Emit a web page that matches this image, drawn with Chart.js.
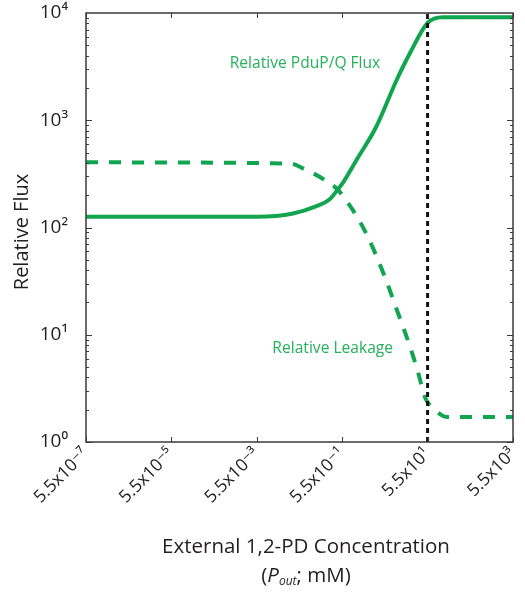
<!DOCTYPE html>
<html><head><meta charset="utf-8">
<script src="https://cdn.jsdelivr.net/npm/chart.js@4"></script>
<style>html,body{margin:0;padding:0;background:#fff}#wrap{width:525px;height:592px;position:relative}</style>
</head><body><div id="wrap"><canvas id="c" width="525" height="592"></canvas></div>
<script>
// ---- data ----
const fluxX = [5.5e-7, 5.5e-3, 0.0389, 0.138, 0.276, 0.437, 0.58, 1.23, 3.47, 10.5, 21.9, 55, 126, 5500];
const fluxY = [126, 126, 135, 158, 182, 227, 264, 436, 874, 2400, 4330, 8100, 9140, 9140];
const leakX = [5.5e-7, 0.0331, 0.066, 0.219, 0.437, 0.978, 2.09, 5.5, 10.5, 21.4, 33.2, 47.9, 74.1, 155, 5500];
const leakY = [405, 395, 356, 276, 224, 145, 85, 34.6, 17, 7.7, 4.4, 2.6, 2.07, 1.71, 1.71];
const thresholdX = [55, 55];
const thresholdY = [1, 10000];
const xTickValues = [5.5e-7, 5.5e-5, 5.5e-3, 5.5e-1, 5.5e1, 5.5e3];
const xTickLabels = ['5.5x10⁻⁷', '5.5x10⁻⁵', '5.5x10⁻³', '5.5x10⁻¹', '5.5x10¹', '5.5x10³'];
const yTickValues = [1, 10, 100, 1000, 10000];
const yTickLabels = ['10⁰', '10¹', '10²', '10³', '10⁴'];
const seriesNames = ['Relative PduP/Q Flux', 'Relative Leakage'];
const xTitle = 'External 1,2-PD Concentration';
const yTitle = 'Relative Flux';
const noteFlux = {x: 0.074, y: 3400};
const noteLeak = {x: 0.33, y: 7.5};

const GREEN = '#10a54e';
const TEXT_GREEN = '#25b15b';
const INK = '#231f20';
const FONT = '"Open Sans", "DejaVu Sans", sans-serif';

const toPts = (xs, ys) => xs.map((x, i) => ({x, y: ys[i]}));

const decor = {
  id: 'decor',
  afterDraw(chart) {
    const ctx = chart.ctx, a = chart.chartArea;
    const xs = chart.scales.x, ys = chart.scales.y;
    ctx.save();
    // frame
    ctx.strokeStyle = '#3a3a3a';
    ctx.lineWidth = 1.5;
    ctx.strokeRect(a.left, a.top, a.right - a.left, a.bottom - a.top);
    ctx.lineWidth = 1;
    ctx.beginPath();
    xTickValues.forEach(v => {
      const px = Math.round(xs.getPixelForValue(v)) + 0.5;
      ctx.moveTo(px, a.bottom); ctx.lineTo(px, a.bottom - 5);
      ctx.moveTo(px, a.top); ctx.lineTo(px, a.top + 5);
    });
    for (let d = 0; d < 4; d++) {
      for (let m = 1; m <= 9; m++) {
        const v = m * Math.pow(10, d);
        const py = Math.round(ys.getPixelForValue(v)) + 0.5;
        const len = m === 1 ? 6 : 3;
        ctx.moveTo(a.left, py); ctx.lineTo(a.left + len, py);
        ctx.moveTo(a.right, py); ctx.lineTo(a.right - len, py);
      }
    }
    ctx.stroke();

    // annotations
    ctx.fillStyle = TEXT_GREEN;
    ctx.font = '15.6px ' + FONT;
    ctx.textAlign = 'center';
    ctx.textBaseline = 'middle';
    ctx.fillText(seriesNames[0], xs.getPixelForValue(noteFlux.x), ys.getPixelForValue(noteFlux.y));
    ctx.fillText(seriesNames[1], xs.getPixelForValue(noteLeak.x), ys.getPixelForValue(noteLeak.y));

    // axis titles
    ctx.fillStyle = INK;
    ctx.font = '20.5px ' + FONT;
    const cx = 306;
    ctx.fillText(xTitle, cx, 547);
    const parts = [
      {t: '(', f: '20.5px ' + FONT, dy: 0},
      {t: 'P', f: 'italic 20.5px ' + FONT, dy: 0},
      {t: 'out', f: 'italic 12px ' + FONT, dy: 6},
      {t: '; mM)', f: '20.5px ' + FONT, dy: 0}
    ];
    let total = 0;
    parts.forEach(p => { ctx.font = p.f; p.w = ctx.measureText(p.t).width; total += p.w; });
    let x0 = cx - total / 2;
    ctx.textAlign = 'left';
    parts.forEach(p => { ctx.font = p.f; ctx.fillText(p.t, x0, 576 + p.dy); x0 += p.w; });

    ctx.font = '20px ' + FONT;
    ctx.textAlign = 'center';
    ctx.translate(22, 232);
    ctx.rotate(-Math.PI / 2);
    ctx.fillText(yTitle, 0, 0);
    ctx.restore();
  }
};

new Chart(document.getElementById('c'), {
  type: 'line',
  data: {
    datasets: [
      {data: toPts(thresholdX, thresholdY), borderColor: '#111', borderWidth: 3, borderDash: [5, 4], pointRadius: 0, order: 0},
      {label: seriesNames[0], data: toPts(fluxX, fluxY), borderColor: GREEN, borderWidth: 4, pointRadius: 0, cubicInterpolationMode: 'monotone', order: 1},
      {label: seriesNames[1], data: toPts(leakX, leakY), borderColor: GREEN, borderWidth: 4, borderDash: [12, 11], pointRadius: 0, cubicInterpolationMode: 'monotone', order: 2}
    ]
  },
  options: {
    responsive: false,
    animation: false,
    layout: {padding: {top: 13, right: 12, left: 0, bottom: 0}},
    plugins: {legend: {display: false}, tooltip: {enabled: false}},
    scales: {
      x: {
        type: 'logarithmic', min: 5.5e-7, max: 5.5e3,
        afterBuildTicks: s => { s.ticks = xTickValues.map(v => ({value: v})); },
        afterFit: s => { s.height = 150; s.paddingLeft = 0; s.paddingRight = 0; },
        grid: {display: false},
        border: {display: false},
        ticks: {
          autoSkip: false, minRotation: 45, maxRotation: 45, padding: -6,
          color: INK, font: {size: 17.5, family: FONT},
          callback: (v, i) => xTickLabels[i]
        }
      },
      y: {
        type: 'logarithmic', min: 1, max: 10000,
        afterBuildTicks: s => { s.ticks = yTickValues.map(v => ({value: v})); },
        afterFit: s => { s.width = 86; s.paddingTop = 0; s.paddingBottom = 0; },
        grid: {display: false},
        border: {display: false},
        ticks: {
          padding: 10, color: INK, font: {size: 19, family: FONT},
          callback: (v, i) => yTickLabels[i]
        }
      }
    }
  },
  plugins: [decor]
});
</script>
</body></html>
